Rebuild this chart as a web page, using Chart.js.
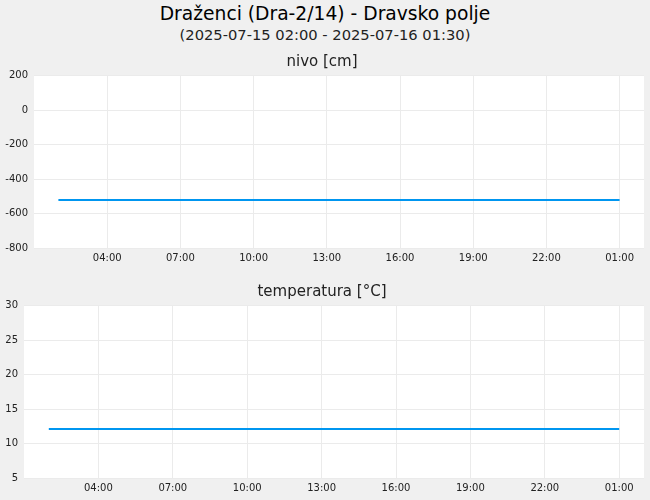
<!DOCTYPE html>
<html>
<head>
<meta charset="utf-8">
<script src="https://cdn.jsdelivr.net/npm/chart.js@4"></script>
<style>
  body { margin: 0; background: #f0f0f0; font-family: "DejaVu Sans", sans-serif; }
  #wrap { position: relative; width: 650px; height: 500px; overflow: hidden; }
  #title { position: absolute; left: 0; top: 3px; width: 650px; text-align: center; font-size: 18.7px; color: #000; }
  #subtitle { position: absolute; left: 0; top: 26px; width: 650px; text-align: center; font-size: 14.7px; color: #222; }
  .box { position: absolute; left: 0; width: 650px; height: 222px; }
</style>
</head>
<body>
<div id="wrap">
  <div id="title">Draženci (Dra-2/14) - Dravsko polje</div>
  <div id="subtitle">(2025-07-15 02:00 - 2025-07-16 01:30)</div>
  <div class="box" style="top:48px"><canvas id="nivoChart"></canvas></div>
  <div class="box" style="top:278px"><canvas id="tempChart"></canvas></div>
</div>
<script>
// ure od 2025-07-15 00:00 (25 = 01:00 naslednji dan)
const hours = [2, 3, 4, 5, 6, 7, 8, 9, 10, 11, 12, 13, 14, 15, 16, 17, 18, 19, 20, 21, 22, 23, 24, 25];
const nivo = [-522, -522, -522, -522, -522, -522, -522, -522, -522, -522, -522, -522,
              -522, -522, -522, -522, -522, -522, -522, -522, -522, -522, -522, -522];
const temperatura = [12.1, 12.1, 12.1, 12.1, 12.1, 12.1, 12.1, 12.1, 12.1, 12.1, 12.1, 12.1,
                     12.1, 12.1, 12.1, 12.1, 12.1, 12.1, 12.1, 12.1, 12.1, 12.1, 12.1, 12.1];
const tickHours = [4, 7, 10, 13, 16, 19, 22, 25];
const tickLabels = ['04:00', '07:00', '10:00', '13:00', '16:00', '19:00', '22:00', '01:00'];

// bel pravokotnik za območje grafa
const plotBg = {
    id: 'plotBg',
    beforeDraw(chart) {
        const a = chart.chartArea;
        chart.ctx.save();
        chart.ctx.fillStyle = '#ffffff';
        chart.ctx.fillRect(a.left, a.top, a.right - a.left, a.bottom - a.top);
        chart.ctx.restore();
    }
};

function makeChart(id, title, values, yMin, yMax, yStep, yWidth) {
    const ctx = document.getElementById(id).getContext('2d');
    return new Chart(ctx, {
        type: 'line',
        data: {
            datasets: [{
                data: hours.map((h, i) => ({ x: h, y: values[i] })),
                borderColor: '#0096f0',
                borderWidth: 2,
                pointRadius: 0,
                tension: 0
            }]
        },
        options: {
            responsive: true,
            maintainAspectRatio: false,
            animation: false,
            layout: { padding: { left: 0, right: 6, top: 0, bottom: 0 } },
            plugins: {
                legend: { display: false },
                tooltip: { enabled: false },
                title: {
                    display: true,
                    text: title,
                    color: '#222',
                    font: { family: 'DejaVu Sans', size: 15, weight: 'normal' },
                    padding: { top: 5, bottom: 4.7 }
                }
            },
            scales: {
                x: {
                    type: 'linear',
                    min: 1,
                    max: 26,
                    afterBuildTicks: (axis) => { axis.ticks = tickHours.map(v => ({ value: v })); },
                    afterFit: (axis) => { axis.height = 22; },
                    ticks: {
                        color: '#222',
                        font: { family: 'DejaVu Sans', size: 10 },
                        padding: 4,
                        maxRotation: 0,
                        autoSkip: false,
                        callback: (v) => tickLabels[tickHours.indexOf(v)]
                    },
                    grid: { color: '#ebebeb', drawTicks: false },
                    border: { display: false }
                },
                y: {
                    min: yMin,
                    max: yMax,
                    afterFit: (axis) => { axis.width = yWidth; },
                    ticks: {
                        stepSize: yStep,
                        color: '#222',
                        font: { family: 'DejaVu Sans', size: 10 },
                        padding: 6
                    },
                    grid: { color: '#ebebeb', drawTicks: false },
                    border: { display: false }
                }
            }
        },
        plugins: [plotBg]
    });
}

makeChart('nivoChart', 'nivo [cm]', nivo, -800, 200, 200, 34);
makeChart('tempChart', 'temperatura [°C]', temperatura, 5, 30, 5, 24);
</script>
</body>
</html>
